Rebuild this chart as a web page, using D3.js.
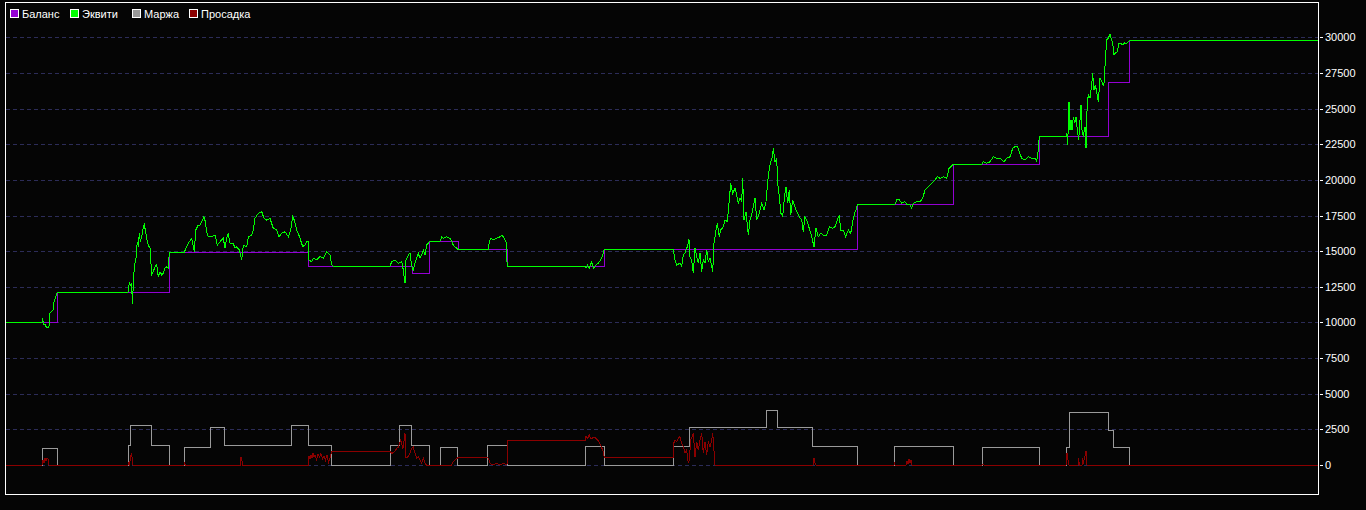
<!DOCTYPE html>
<html>
<head>
<meta charset="utf-8">
<style>
    html, body { margin: 0; padding: 0; background: #050505; }
    svg { display: block; }
    .grid line { stroke: #2c2c58; stroke-width: 1; stroke-dasharray: 4,3; shape-rendering: crispEdges; }
    .series { fill: none; stroke-width: 1; shape-rendering: crispEdges; }
    .axis text { fill: #fff; font: 11px "Liberation Sans", Arial, sans-serif; }
    .axis line { stroke: #fff; shape-rendering: crispEdges; }
    .legend text { fill: #fff; font: 11px "Liberation Sans", Arial, sans-serif; }
</style>
</head>
<body>
<svg id="chart"></svg>
<script src="https://cdn.jsdelivr.net/npm/d3@7"></script>
<script>
    // series names + colours (legend order)
    var seriesNames = ['Баланс', 'Эквити', 'Маржа', 'Просадка'];
    var seriesColors = ['#9400d3', '#00ff00', '#9a9a9a', '#8b0000'];

    // y axis tick values
    var tickValues = [0, 2500, 5000, 7500, 10000, 12500, 15000, 17500, 20000, 22500, 25000, 27500, 30000];

    // balance: [bar, value], step after
    var balance = [
        [0, 10000], [52, 12110], [164, 14920], [303, 13940], [407, 13450], [424, 15690],
        [453, 15130], [502, 13940], [599, 15130], [852, 18290], [948, 21090],
        [1034, 23060], [1103, 26840], [1124, 29790], [1313, 29790]
    ];

    // equity: [bar, value]
    var equity = [
        [0, 10000], [37, 10000], [37.5, 10300], [38.5, 9850], [40, 9900], [41, 9700], [43, 9620],
        [44, 9750], [44.7, 10650], [46, 10750], [48, 10850], [49, 11450], [50.5, 11700],
        [51.5, 12000], [52.3, 12110], [123, 12110],
        [123.3, 12230], [124.3, 12800], [125.3, 12620], [126.7, 12740], [127.3, 11270], [128, 12200],
        [129.3, 13900], [131, 14500], [132.3, 15660], [133.3, 15300], [134.3, 16250], [135.3, 15660],
        [136.7, 16010], [138.3, 16710], [139.3, 16880], [140.3, 16480], [141.7, 15900], [143.3, 15430],
        [145, 15200], [146.7, 13330], [148.3, 13560], [150, 13910], [151.7, 14030], [153.3, 13210],
        [155, 13560], [156.7, 13330], [158.3, 13450], [160, 13800], [161.7, 13910], [163.3, 13800],
        [164.3, 14920], [179.3, 14920],
        [181, 15200], [183.3, 15550], [186.7, 15900], [189.3, 14960], [190.7, 16480], [193.3, 16830],
        [195, 16830], [196.7, 17070], [199, 17420], [200.3, 17070], [201.7, 16360], [203.3, 16010],
        [206.7, 16010], [210, 16130], [212.3, 15430], [215, 15660], [218.3, 15900], [220, 15200],
        [221.7, 15900], [223.3, 16250], [225, 15550], [228.3, 15550], [230, 15200], [231.7, 15310],
        [234.3, 15080], [236.7, 14380], [238.3, 15430], [241.7, 15310], [243.3, 16010], [246.7, 16130],
        [248.3, 16480], [250, 17300], [253.3, 17650], [256.7, 17770], [259, 17300], [261.7, 17180],
        [265, 17300], [268.3, 16600], [271.7, 16480], [274, 16010], [276.7, 16250], [280, 16360],
        [283.3, 16010], [285.7, 16480], [287.7, 17420], [289.3, 17180], [291.7, 16480], [293.3, 16250],
        [295, 15900], [297.7, 15310], [300, 15430], [301.7, 15660], [303.3, 15660], [303.7, 14380],
        [306.7, 14260], [308.3, 14500], [311.7, 14380], [315, 14610], [318.3, 14500], [321.7, 14960],
        [325, 14730], [326.7, 14030], [328, 13940], [385, 13940],
        [386.7, 14260], [390, 14380], [393.3, 14150], [396.7, 14260], [398.3, 13680], [400, 12740],
        [401, 14380], [403.3, 14730], [405, 14850], [406.7, 13910], [408.3, 13680], [410, 14150],
        [411.7, 14500], [413.3, 14850], [415, 14500], [416.7, 14730], [418.3, 15080], [420, 14730],
        [421.7, 15430], [423.3, 15550], [424.3, 15690], [435, 15690],
        [436.7, 16010], [438.3, 15900], [441.7, 16010], [445, 15900], [446.7, 15660], [448.3, 15430],
        [450, 15310], [452.7, 15130], [483.3, 15130],
        [484.3, 15660], [485.7, 15900], [488.3, 15780], [491.7, 15900], [495, 16010], [496.7, 16130],
        [498.3, 16010], [501, 15660], [501.7, 14610], [502.3, 13940], [580, 13940],
        [581, 13800], [582.3, 14030], [584.3, 13800], [586.7, 14260], [588.3, 13800], [591, 14030],
        [593.3, 14150], [595.7, 14380], [597.7, 14730], [599.3, 15130], [668.3, 15130],
        [670, 14380], [671.7, 14030], [675, 14150], [676.7, 13910], [678.3, 14730], [680, 14850],
        [682.3, 15310], [684, 15830], [685, 14610], [686.7, 14380], [688.3, 13450], [690, 15200],
        [691.7, 14610], [693.3, 14150], [695, 14850], [696.7, 13560], [698.3, 14380], [700, 14150],
        [701.7, 15080], [703.3, 14260], [705, 14500], [707.7, 13560], [709, 15550], [711, 16480],
        [712.3, 16950], [714.3, 16010], [715.7, 16480], [718.3, 16710], [720, 17180], [722.3, 17070],
        [724.3, 18590], [725.7, 19760], [727.7, 19060], [730, 19410], [731.7, 18940], [733.3, 18360],
        [735, 18710], [736.7, 18470], [737.7, 20110], [739, 17180], [741, 17770], [743.3, 16130],
        [745, 17180], [746.7, 17540], [748.3, 18120], [750, 18710], [751.7, 17180], [754.3, 17650],
        [756.7, 18360], [759, 17890], [761, 18470], [762.7, 19870], [764.3, 20810], [765.7, 21270],
        [767, 21510], [768.3, 22210], [770, 21270], [771.7, 21510], [772.7, 19760], [774.3, 18820],
        [776, 17650], [777.7, 17420], [779.3, 18710], [781, 19520], [782.7, 18360], [784.3, 19290],
        [785.7, 17540], [787.7, 18590], [790, 18120], [791.7, 17770], [794.3, 17420], [796.7, 17180],
        [798.3, 16360], [800, 17420], [801.7, 17180], [804.3, 16600], [806.7, 16010], [809, 15310],
        [811, 16600], [813.3, 16010], [815.7, 16250], [818.3, 16130], [821.7, 16130], [824.3, 16710],
        [827.7, 16600], [830, 16710], [832.3, 17180], [834.3, 17540], [835.7, 16480], [838.3, 16480],
        [840.7, 16010], [843.3, 16480], [845.7, 16250], [847.7, 17070], [850, 17770], [851.7, 18000],
        [852.3, 18290], [890, 18290],
        [891.7, 18590], [894.3, 18590], [896.7, 18360], [900, 18470], [902.3, 18240], [905, 18240],
        [906.7, 18000], [908.3, 18360], [911.7, 18470], [915, 18470], [917.7, 18710], [920, 19290],
        [923.3, 19520], [926.7, 19760], [930, 19990], [932.3, 20220], [935, 20110], [938.3, 20220],
        [941.7, 20110], [944, 20810], [946, 20920], [948.3, 21090], [976.7, 21090],
        [978.3, 21270], [981.7, 21160], [985, 21270], [988.3, 21620], [991.7, 21510], [995, 21510],
        [999, 21270], [1001.7, 21510], [1005, 21620], [1007.7, 22210], [1010, 22330], [1012.7, 22330],
        [1014.3, 21980], [1016.7, 21510], [1020, 21390], [1023.3, 21620], [1026.7, 21510], [1030, 21510],
        [1031.7, 21270], [1033.3, 22090], [1034.3, 23060], [1061, 23060],
        [1061.7, 23270], [1062.7, 22450], [1064, 25480], [1065, 23500], [1066, 24200], [1067, 23500],
        [1068.3, 24430], [1069.7, 23970], [1071, 24430], [1072.3, 23500], [1073.7, 22800], [1075, 24200],
        [1076, 25250], [1077, 23500], [1078.3, 23030], [1080, 23730], [1081, 22210], [1082.3, 25600],
        [1083.7, 25950], [1085, 25720], [1086.7, 26650], [1087.7, 27470], [1089, 26300], [1090.3, 26650],
        [1091.7, 26180], [1093.3, 25480], [1095, 27120], [1096.7, 26890], [1098.3, 26650], [1099.3, 26890],
        [1100.3, 28410], [1101.7, 29810], [1103.3, 29930], [1105, 30230], [1106.7, 29810], [1107.7, 29580],
        [1109, 28760], [1110.3, 28880], [1112.3, 28990], [1114, 29580], [1115.7, 29580], [1117.7, 29460],
        [1119, 29620], [1121, 29530], [1122.7, 29620], [1124.3, 29790], [1313, 29790]
    ];

    // margin: [bar, value], step after
    var margin = [
        [0, 0], [37, 1170], [52.3, 0], [123.3, 1400], [125, 2780], [146.7, 1380], [164.3, 0],
        [179.3, 1240], [205, 2640], [219.3, 1380], [286, 2780], [303.3, 1380], [326.7, 0],
        [385, 1380], [394.3, 2780], [406.7, 1380], [424.3, 0], [435.3, 1240], [452.7, 0],
        [482.3, 1380], [502.3, 0], [580.3, 1310], [599.3, 0], [668.3, 1330], [684.3, 2640],
        [761, 3830], [772.3, 2640], [807.3, 1330], [852.3, 0], [889.3, 1330], [948.3, 0],
        [977.3, 1240], [1034.3, 0], [1061.7, 1240], [1064.3, 3700], [1103.3, 2430], [1108.3, 1240],
        [1124.3, 0], [1313, 0]
    ];

    // drawdown: [bar, value]
    var drawdown = [
        [0, 0], [37, 0], [38, 350], [39, 150], [40, 470], [41, 300], [42, 470], [43, 420], [44, 0],
        [123, 0], [123.5, 150], [124.5, 0], [125.5, 600], [126.5, 820], [127.5, 300], [128, 0],
        [179, 0], [179.5, 120], [180.5, 0], [235.5, 0], [236, 540], [237, 300], [237.5, 0],
        [303.3, 0], [304, 600], [305, 450], [306, 700], [307, 500], [308, 820], [309, 550], [310, 700],
        [311.5, 400], [313, 750], [314.5, 550], [316, 800], [317.5, 450], [319, 650], [320.5, 350],
        [322, 700], [323.5, 200], [325, 500], [326.7, 960], [385, 960],
        [387, 820], [389, 900], [391.7, 1160], [393.3, 1250], [395.7, 1750], [398, 1160], [400, 2220],
        [401, 480], [403.3, 600], [405, 820], [406.7, 1160], [408.3, 1250], [410, 820], [411.7, 480],
        [413.3, 600], [415, 350], [416.7, 120], [418.3, 480], [420, 120], [421.7, 0],
        [446.7, 0], [448, 200], [450, 350], [453.3, 540], [482.3, 540], [483.3, 480], [485, 120],
        [488.3, 0], [491.7, 120], [495, 0], [498.3, 120], [502, 0], [502.3, 1750], [580.3, 1750],
        [581, 2000], [582.7, 1890], [584.3, 2100], [586, 1840], [589.3, 1960], [592.7, 1750],
        [595, 1500], [597.7, 1050], [599.3, 540], [668.3, 540],
        [668.7, 1520], [670, 1750], [671.7, 1640], [673.3, 1870], [675, 2000], [676.7, 1520],
        [678.3, 1290], [680, 820], [681.7, 1050], [683.3, 120], [684.3, 350], [685.7, 1750],
        [688.3, 2220], [690, 580], [691.7, 1640], [693.3, 1050], [695, 1750], [696.7, 2270],
        [698.3, 820], [700, 1640], [701.7, 700], [703.3, 1640], [705, 1290], [706.7, 1750],
        [707.7, 2270], [709, 960], [710, 0],
        [808, 0], [809, 470], [810, 150], [811, 0], [889, 0], [889.5, 120], [890, 0],
        [901, 0], [902, 250], [903, 100], [904, 400], [905, 150], [906, 350], [907, 0],
        [977, 0], [978, 60], [979, 0], [1061, 0], [1062, 820], [1063, 350], [1064, 0],
        [1073, 0], [1073.5, 470], [1074.5, 0], [1077, 0], [1077.5, 470], [1078.5, 200],
        [1080, 600], [1081, 980], [1082, 0], [1313, 0]
    ];

    var width = 1366;
    var height = 510;

    // plot frame (note: "top" is taken by window.top, so use frameTop)
    var frameLeft = 5, frameRight = 1318, frameTop = 2, frameBottom = 494;

    var svg = d3.select('#chart')
        .attr('width', width)
        .attr('height', height);

    svg.append('rect')
        .attr('width', width)
        .attr('height', height)
        .attr('fill', '#050505');

    var x = d3.scaleLinear().domain([0, 1313]).range([frameLeft, frameRight]);
    var y = d3.scaleLinear().domain([0, 30000]).range([465, 37.3]);

    // dashed horizontal grid
    svg.append('g')
        .attr('class', 'grid')
        .selectAll('line')
        .data(tickValues)
        .join('line')
        .attr('x1', frameLeft + 1)
        .attr('x2', frameRight)
        .attr('y1', function (d) { return Math.round(y(d)) + 0.5; })
        .attr('y2', function (d) { return Math.round(y(d)) + 0.5; });

    var stepLine = d3.line()
        .x(function (d) { return x(d[0]); })
        .y(function (d) { return y(d[1]); })
        .curve(d3.curveStepAfter);

    var plainLine = d3.line()
        .x(function (d) { return x(d[0]); })
        .y(function (d) { return y(d[1]); });

    // margin, then drawdown on top of it
    svg.append('path').attr('class', 'series')
        .attr('stroke', seriesColors[2])
        .attr('d', stepLine(margin));

    svg.append('path').attr('class', 'series')
        .attr('stroke', seriesColors[3])
        .attr('d', plainLine(drawdown));

    // balance under equity
    svg.append('path').attr('class', 'series')
        .attr('stroke', seriesColors[0])
        .attr('d', stepLine(balance));

    svg.append('path').attr('class', 'series')
        .attr('stroke', seriesColors[1])
        .attr('stroke-width', 1.4)
        .attr('d', plainLine(equity));

    // white frame
    svg.append('rect')
        .attr('x', frameLeft + 0.5)
        .attr('y', frameTop + 0.5)
        .attr('width', frameRight - frameLeft)
        .attr('height', frameBottom - frameTop)
        .attr('fill', 'none')
        .attr('stroke', '#fff')
        .attr('shape-rendering', 'crispEdges');

    // right value axis
    var axis = d3.axisRight(y)
        .tickValues(tickValues)
        .tickFormat(d3.format('d'))
        .tickSizeInner(3)
        .tickSizeOuter(0)
        .tickPadding(2);

    var axisG = svg.append('g')
        .attr('class', 'axis')
        .attr('transform', 'translate(' + (frameRight + 2) + ',0)')
        .call(axis);
    axisG.select('.domain').remove();
    axisG.selectAll('.tick').attr('transform', function (d) {
        return 'translate(0,' + (Math.round(y(d)) + 0.5) + ')';
    });

    // legend
    var legendX = [10, 70, 132, 189];
    var legend = svg.append('g')
        .attr('class', 'legend')
        .selectAll('g')
        .data(seriesNames)
        .join('g')
        .attr('transform', function (d, i) { return 'translate(' + legendX[i] + ',0)'; });

    legend.append('rect')
        .attr('x', 0.5)
        .attr('y', 9.5)
        .attr('width', 8)
        .attr('height', 8)
        .attr('fill', function (d, i) { return seriesColors[i]; })
        .attr('stroke', '#fff')
        .attr('shape-rendering', 'crispEdges');

    legend.append('text')
        .attr('x', 12)
        .attr('y', 17.5)
        .text(function (d) { return d; });
</script>
</body>
</html>
